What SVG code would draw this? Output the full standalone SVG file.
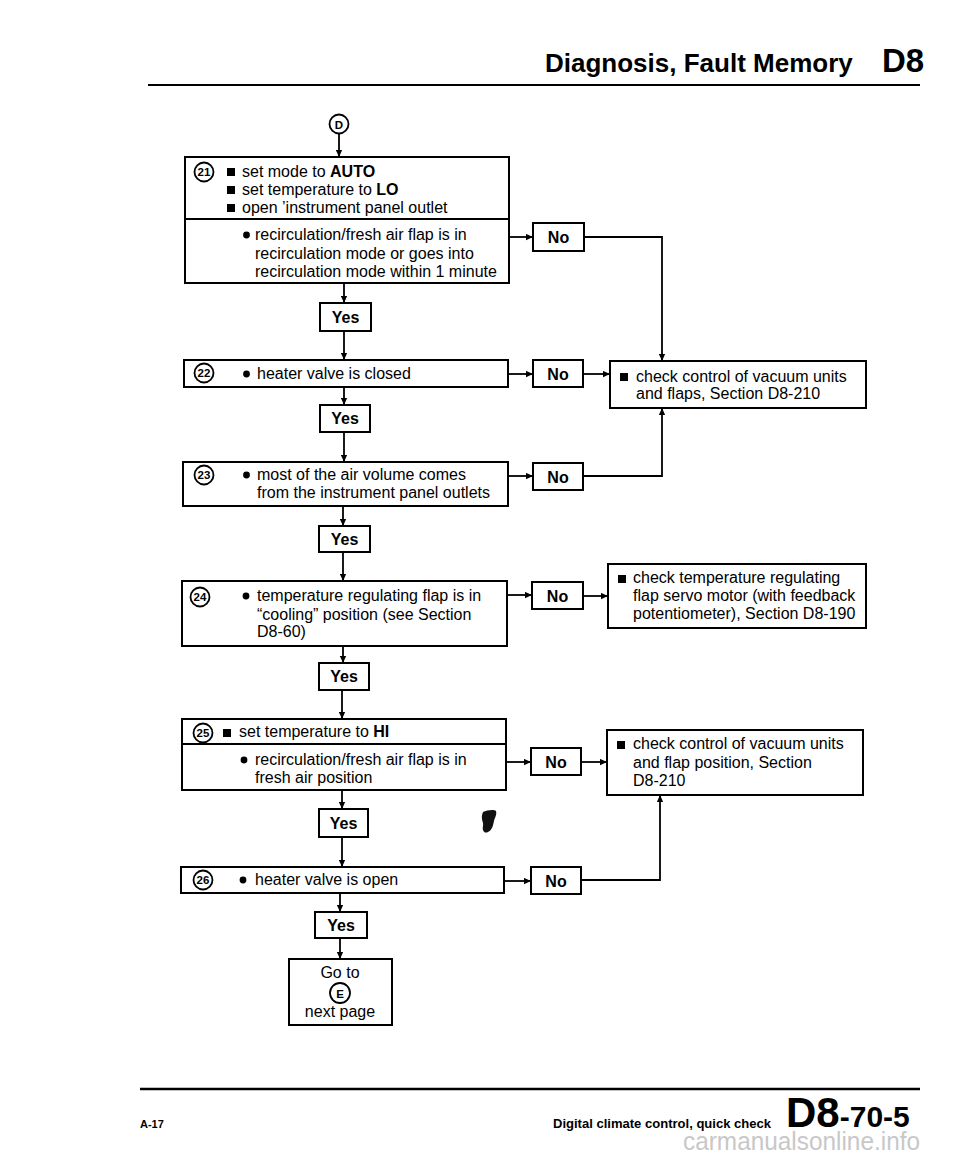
<svg xmlns="http://www.w3.org/2000/svg" width="960" height="1156" viewBox="0 0 960 1156">
<style>
  text { font-family: "Liberation Sans", Arial, sans-serif; fill: #000; }
  .t { font-size: 16px; }
  .b { font-weight: bold; }
  .yn { font-size: 16px; font-weight: bold; text-anchor: middle; }
  .num { font-size: 11.5px; font-weight: bold; text-anchor: middle; }
  .box { fill: #fff; stroke: #000; stroke-width: 2; }
  .ln { fill: none; stroke: #000; stroke-width: 1.8; }
  .circ { fill: #fff; stroke: #000; stroke-width: 1.8; }
</style>
<defs>
  <marker id="ah" viewBox="0 0 10 10" refX="10" refY="5" markerWidth="9" markerHeight="7" markerUnits="userSpaceOnUse" orient="auto">
    <path d="M0,0.5 L10,5 L0,9.5 z" fill="#000"/>
  </marker>
</defs>

<!-- header -->
<g id="header">
  <text x="545" y="72" class="b" font-size="26">Diagnosis, Fault Memory</text>
  <text x="882" y="72" class="b" font-size="33">D8</text>
  <line x1="148" y1="85" x2="920" y2="85" stroke="#000" stroke-width="2.2"/>
</g>

<!-- connectors -->
<g id="connectors">
  <line class="ln" x1="339" y1="134" x2="339" y2="157" marker-end="url(#ah)"/>
  <line class="ln" x1="344" y1="283" x2="344" y2="303" marker-end="url(#ah)"/>
  <line class="ln" x1="344" y1="331" x2="344" y2="360" marker-end="url(#ah)"/>
  <line class="ln" x1="344" y1="387" x2="344" y2="405" marker-end="url(#ah)"/>
  <line class="ln" x1="344" y1="432" x2="344" y2="462" marker-end="url(#ah)"/>
  <line class="ln" x1="343" y1="506" x2="343" y2="526" marker-end="url(#ah)"/>
  <line class="ln" x1="343" y1="552" x2="343" y2="581" marker-end="url(#ah)"/>
  <line class="ln" x1="343" y1="646" x2="343" y2="663" marker-end="url(#ah)"/>
  <line class="ln" x1="342" y1="690" x2="342" y2="719" marker-end="url(#ah)"/>
  <line class="ln" x1="342" y1="790" x2="342" y2="809" marker-end="url(#ah)"/>
  <line class="ln" x1="342" y1="837" x2="342" y2="867" marker-end="url(#ah)"/>
  <line class="ln" x1="340" y1="893" x2="340" y2="912" marker-end="url(#ah)"/>
  <line class="ln" x1="340" y1="938" x2="340" y2="959" marker-end="url(#ah)"/>

  <line class="ln" x1="509" y1="237" x2="533" y2="237" marker-end="url(#ah)"/>
  <polyline class="ln" points="584,237 662,237 662,361" marker-end="url(#ah)"/>
  <line class="ln" x1="508" y1="374" x2="533" y2="374" marker-end="url(#ah)"/>
  <line class="ln" x1="583" y1="374" x2="610" y2="374" marker-end="url(#ah)"/>
  <line class="ln" x1="508" y1="476" x2="533" y2="476" marker-end="url(#ah)"/>
  <polyline class="ln" points="583,476 662,476 662,408" marker-end="url(#ah)"/>
  <line class="ln" x1="507" y1="595" x2="532" y2="595" marker-end="url(#ah)"/>
  <line class="ln" x1="583" y1="596" x2="608" y2="596" marker-end="url(#ah)"/>
  <line class="ln" x1="506" y1="762" x2="531" y2="762" marker-end="url(#ah)"/>
  <line class="ln" x1="581" y1="762" x2="607" y2="762" marker-end="url(#ah)"/>
  <line class="ln" x1="504" y1="881" x2="531" y2="881" marker-end="url(#ah)"/>
  <polyline class="ln" points="581,880 660,880 660,795" marker-end="url(#ah)"/>
</g>

<g id="startD">
  <circle class="circ" cx="339" cy="124" r="9.5"/>
  <text x="339" y="129" class="num" font-size="13">D</text>
</g>

<g id="step21">
  <rect class="box" x="185" y="157" width="324" height="126"/>
  <line x1="185" y1="219" x2="509" y2="219" stroke="#000" stroke-width="2"/>
  <circle class="circ" cx="204" cy="172" r="9.5"/>
  <text x="204" y="176" class="num">21</text>
  <rect x="227" y="168" width="8" height="8" fill="#000"/>
  <rect x="227" y="186" width="8" height="8" fill="#000"/>
  <rect x="227" y="204" width="8" height="8" fill="#000"/>
  <text x="242" y="177" class="t">set mode to <tspan class="b">AUTO</tspan></text>
  <text x="242" y="195" class="t">set temperature to <tspan class="b">LO</tspan></text>
  <text x="242" y="213" class="t">open ’instrument panel outlet</text>
  <circle cx="246.5" cy="235" r="3.4" fill="#000"/>
  <text x="255" y="240" class="t">recirculation/fresh air flap is in</text>
  <text x="255" y="259" class="t">recirculation mode or goes into</text>
  <text x="255" y="277" class="t">recirculation mode within 1 minute</text>
</g>
<g id="yes21"><rect class="box" x="320" y="303" width="51" height="28"/><text x="345.5" y="323" class="yn">Yes</text></g>
<g id="no21"><rect class="box" x="533" y="223" width="51" height="28"/><text x="558.5" y="243" class="yn">No</text></g>

<g id="check1">
  <rect class="box" x="610" y="361" width="256" height="47"/>
  <rect x="620" y="373" width="8" height="8" fill="#000"/>
  <text x="636" y="382" class="t">check control of vacuum units</text>
  <text x="636" y="399" class="t">and flaps, Section D8-210</text>
</g>

<g id="step22">
  <rect class="box" x="184" y="360" width="324" height="27"/>
  <circle class="circ" cx="204" cy="373" r="9.5"/>
  <text x="204" y="377" class="num">22</text>
  <circle cx="246.5" cy="374" r="3.4" fill="#000"/>
  <text x="257" y="379" class="t">heater valve is closed</text>
</g>
<g id="no22"><rect class="box" x="533" y="360" width="50" height="27"/><text x="558" y="380" class="yn">No</text></g>
<g id="yes22"><rect class="box" x="320" y="405" width="50" height="27"/><text x="345" y="424" class="yn">Yes</text></g>

<g id="step23">
  <rect class="box" x="183" y="462" width="325" height="44"/>
  <circle class="circ" cx="204" cy="475" r="9.5"/>
  <text x="204" y="479" class="num">23</text>
  <circle cx="246.5" cy="475" r="3.4" fill="#000"/>
  <text x="257" y="480" class="t">most of the air volume comes</text>
  <text x="257" y="498" class="t">from the instrument panel outlets</text>
</g>
<g id="no23"><rect class="box" x="533" y="463" width="50" height="27"/><text x="558" y="483" class="yn">No</text></g>
<g id="yes23"><rect class="box" x="319" y="526" width="51" height="26"/><text x="344.5" y="545" class="yn">Yes</text></g>

<g id="step24">
  <rect class="box" x="182" y="581" width="325" height="65"/>
  <circle class="circ" cx="200" cy="597" r="9.5"/>
  <text x="200" y="601" class="num">24</text>
  <circle cx="246" cy="596" r="3.4" fill="#000"/>
  <text x="257" y="601" class="t">temperature regulating flap is in</text>
  <text x="257" y="620" class="t">“cooling” position (see Section</text>
  <text x="257" y="637" class="t">D8-60)</text>
</g>
<g id="no24"><rect class="box" x="532" y="582" width="51" height="27"/><text x="557.5" y="602" class="yn">No</text></g>
<g id="check2">
  <rect class="box" x="608" y="564" width="258" height="64"/>
  <rect x="618" y="575" width="8" height="8" fill="#000"/>
  <text x="633" y="583" class="t">check temperature regulating</text>
  <text x="633" y="601" class="t">flap servo motor (with feedback</text>
  <text x="633" y="619" class="t">potentiometer), Section D8-190</text>
</g>
<g id="yes24"><rect class="box" x="319" y="663" width="50" height="27"/><text x="344" y="682" class="yn">Yes</text></g>

<g id="step25">
  <rect class="box" x="182" y="719" width="324" height="71"/>
  <line x1="182" y1="744" x2="506" y2="744" stroke="#000" stroke-width="2"/>
  <circle class="circ" cx="203" cy="733" r="9.5"/>
  <text x="203" y="737" class="num">25</text>
  <rect x="223" y="729" width="8" height="8" fill="#000"/>
  <text x="239" y="737" class="t">set temperature to <tspan class="b">HI</tspan></text>
  <circle cx="244" cy="760" r="3.4" fill="#000"/>
  <text x="255" y="765" class="t">recirculation/fresh air flap is in</text>
  <text x="255" y="783" class="t">fresh air position</text>
</g>
<g id="no25"><rect class="box" x="531" y="748" width="50" height="27"/><text x="556" y="768" class="yn">No</text></g>
<g id="check3">
  <rect class="box" x="607" y="730" width="256" height="65"/>
  <rect x="617" y="741" width="8" height="8" fill="#000"/>
  <text x="633" y="749" class="t">check control of vacuum units</text>
  <text x="633" y="768" class="t">and flap position, Section</text>
  <text x="633" y="786" class="t">D8-210</text>
</g>
<g id="yes25"><rect class="box" x="319" y="809" width="49" height="28"/><text x="343.5" y="829" class="yn">Yes</text></g>

<g id="step26">
  <rect class="box" x="181" y="867" width="323" height="26"/>
  <circle class="circ" cx="203" cy="880" r="9.5"/>
  <text x="203" y="884" class="num">26</text>
  <circle cx="243" cy="880" r="3.4" fill="#000"/>
  <text x="255" y="885" class="t">heater valve is open</text>
</g>
<g id="no26"><rect class="box" x="531" y="867" width="50" height="27"/><text x="556" y="887" class="yn">No</text></g>
<g id="yes26"><rect class="box" x="315" y="912" width="52" height="26"/><text x="341" y="931" class="yn">Yes</text></g>

<g id="goto">
  <rect class="box" x="289" y="959" width="103" height="66"/>
  <text x="340" y="978" class="t" text-anchor="middle">Go to</text>
  <circle class="circ" cx="340" cy="993" r="10"/>
  <text x="340" y="998" class="num" font-size="13">E</text>
  <text x="340" y="1017" class="t" text-anchor="middle">next page</text>
</g>

<!-- scan blob -->
<path d="M483,812 c4,-2 11,-3 13,-1 c1,4 -1,6 -2,10 c-1,5 -2,9 -6,11 c-4,2 -6,-2 -5,-6 c1,-4 -3,-7 0,-14 z" fill="#111"/>

<!-- footer -->
<g id="footer">
  <line x1="140" y1="1089" x2="920" y2="1089" stroke="#000" stroke-width="2.5"/>
  <text x="140" y="1128" class="b" font-size="11">A-17</text>
  <text x="553" y="1128" class="b" font-size="12" textLength="218" lengthAdjust="spacingAndGlyphs">Digital climate control, quick check</text>
  <text x="786" y="1127" class="b" font-size="42">D8<tspan font-size="30">-70-5</tspan></text>
  <text x="683" y="1150" font-size="26" style="fill:#c8c8c8" textLength="237" lengthAdjust="spacingAndGlyphs">carmanualsonline.info</text>
</g>
</svg>
